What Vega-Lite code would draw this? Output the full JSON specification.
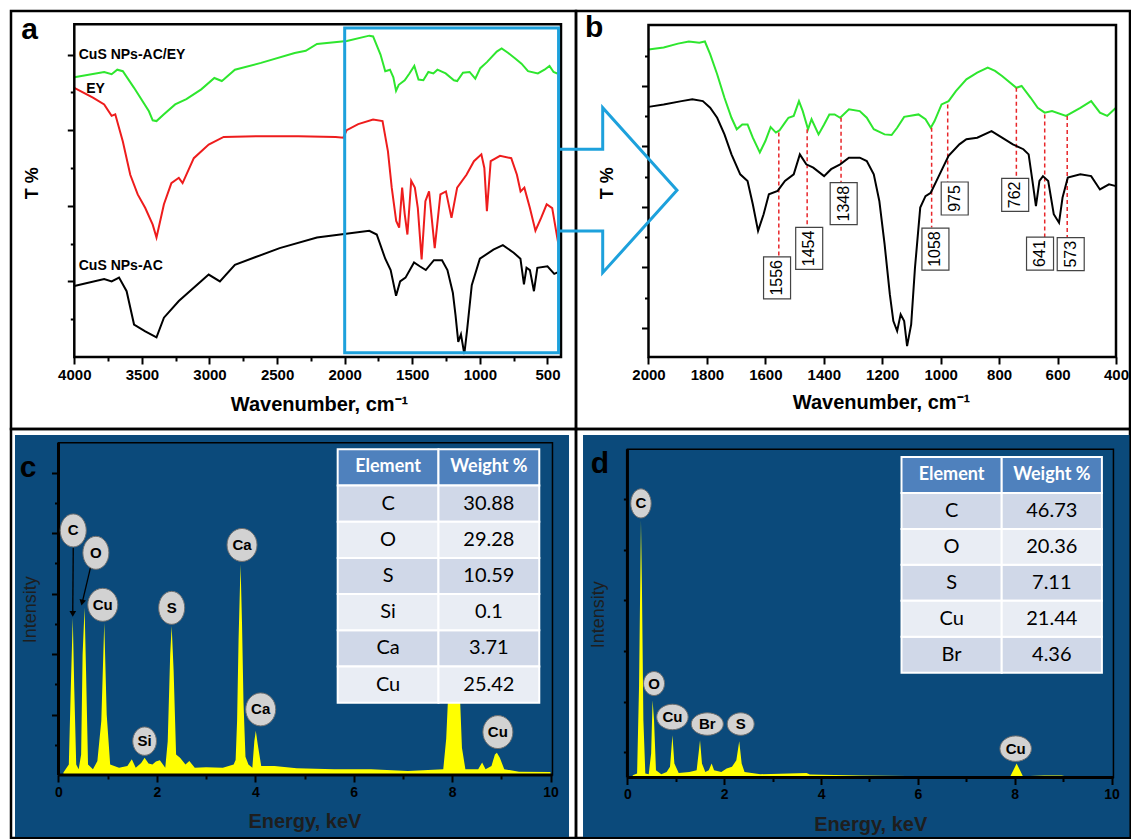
{
"$schema":"https://vega.github.io/schema/vega-lite/v6.json",
"background":"white",
"padding":{"left":9,"top":9,"right":0,"bottom":0},
"bounds":"flush",
"spacing":0,
"columns":2,
"resolve":{"scale":{"shape":"independent"}},
"config":{
 "font":"Liberation Sans",
 "view":{"stroke":"black","strokeWidth":2.5},
 "axis":{"domain":false,"grid":false,"tickColor":"black","tickWidth":2,"tickSize":7,"labelFont":"Liberation Sans","labelFontWeight":"bold","labelFontSize":15,"labelColor":"black","labelPadding":3,"titleFont":"Liberation Sans","titleFontWeight":"bold","titleFontSize":20,"titleColor":"black"}
},
"datasets":{
 "aGreen":[{"wn":4000,"t":3.70},{"wn":3779,"t":3.77},{"wn":3724,"t":3.74},{"wn":3682,"t":3.80},{"wn":3641,"t":3.78},{"wn":3558,"t":3.56},{"wn":3448,"t":3.25},{"wn":3420,"t":3.13},{"wn":3392,"t":3.12},{"wn":3337,"t":3.21},{"wn":3254,"t":3.34},{"wn":3171,"t":3.41},{"wn":3061,"t":3.54},{"wn":2964,"t":3.69},{"wn":2909,"t":3.65},{"wn":2895,"t":3.67},{"wn":2812,"t":3.80},{"wn":2619,"t":3.89},{"wn":2370,"t":4.02},{"wn":2288,"t":4.05},{"wn":2205,"t":4.14},{"wn":1984,"t":4.18},{"wn":1818,"t":4.25},{"wn":1790,"t":4.24},{"wn":1735,"t":4.00},{"wn":1700,"t":3.78},{"wn":1665,"t":3.80},{"wn":1640,"t":3.70},{"wn":1620,"t":3.52},{"wn":1600,"t":3.60},{"wn":1556,"t":3.66},{"wn":1521,"t":3.75},{"wn":1485,"t":3.85},{"wn":1454,"t":3.67},{"wn":1418,"t":3.66},{"wn":1381,"t":3.77},{"wn":1344,"t":3.75},{"wn":1314,"t":3.80},{"wn":1253,"t":3.75},{"wn":1192,"t":3.66},{"wn":1168,"t":3.65},{"wn":1125,"t":3.76},{"wn":1076,"t":3.77},{"wn":1034,"t":3.68},{"wn":997,"t":3.82},{"wn":948,"t":3.90},{"wn":875,"t":4.04},{"wn":839,"t":4.08},{"wn":790,"t":4.02},{"wn":741,"t":3.95},{"wn":692,"t":3.88},{"wn":644,"t":3.78},{"wn":571,"t":3.75},{"wn":522,"t":3.80},{"wn":485,"t":3.85},{"wn":455,"t":3.77},{"wn":430,"t":3.75},{"wn":400,"t":3.79}],
 "aRed":[{"wn":4000,"t":3.56},{"wn":3862,"t":3.43},{"wn":3779,"t":3.34},{"wn":3724,"t":3.19},{"wn":3697,"t":3.21},{"wn":3641,"t":2.85},{"wn":3586,"t":2.41},{"wn":3531,"t":2.15},{"wn":3475,"t":1.97},{"wn":3420,"t":1.75},{"wn":3392,"t":1.58},{"wn":3337,"t":2.02},{"wn":3282,"t":2.30},{"wn":3227,"t":2.37},{"wn":3199,"t":2.30},{"wn":3116,"t":2.63},{"wn":3006,"t":2.81},{"wn":2895,"t":2.91},{"wn":2619,"t":2.92},{"wn":2343,"t":2.92},{"wn":2067,"t":2.91},{"wn":2010,"t":2.90},{"wn":1985,"t":3.00},{"wn":1900,"t":3.08},{"wn":1790,"t":3.14},{"wn":1720,"t":3.12},{"wn":1680,"t":2.72},{"wn":1652,"t":2.24},{"wn":1619,"t":1.80},{"wn":1597,"t":1.71},{"wn":1575,"t":2.24},{"wn":1556,"t":1.89},{"wn":1536,"t":1.62},{"wn":1508,"t":2.33},{"wn":1481,"t":2.24},{"wn":1459,"t":1.97},{"wn":1431,"t":1.29},{"wn":1403,"t":2.06},{"wn":1376,"t":2.19},{"wn":1334,"t":1.44},{"wn":1292,"t":2.15},{"wn":1251,"t":2.19},{"wn":1210,"t":1.84},{"wn":1168,"t":2.24},{"wn":1099,"t":2.41},{"wn":1044,"t":2.59},{"wn":989,"t":2.68},{"wn":967,"t":2.50},{"wn":948,"t":1.93},{"wn":920,"t":2.59},{"wn":851,"t":2.66},{"wn":768,"t":2.63},{"wn":726,"t":2.41},{"wn":699,"t":2.19},{"wn":671,"t":2.24},{"wn":630,"t":1.97},{"wn":589,"t":1.67},{"wn":547,"t":1.84},{"wn":506,"t":2.02},{"wn":465,"t":1.97},{"wn":423,"t":1.53},{"wn":400,"t":1.40}],
 "aBlack":[{"wn":4000,"t":0.94},{"wn":3779,"t":1.03},{"wn":3724,"t":1.00},{"wn":3669,"t":1.05},{"wn":3613,"t":0.87},{"wn":3558,"t":0.43},{"wn":3475,"t":0.34},{"wn":3392,"t":0.26},{"wn":3337,"t":0.52},{"wn":3227,"t":0.74},{"wn":3006,"t":1.09},{"wn":2923,"t":1.00},{"wn":2812,"t":1.22},{"wn":2481,"t":1.44},{"wn":2205,"t":1.58},{"wn":1818,"t":1.67},{"wn":1763,"t":1.62},{"wn":1700,"t":1.30},{"wn":1660,"t":1.15},{"wn":1620,"t":0.81},{"wn":1590,"t":1.00},{"wn":1550,"t":1.05},{"wn":1487,"t":1.25},{"wn":1445,"t":1.20},{"wn":1400,"t":1.15},{"wn":1340,"t":1.28},{"wn":1280,"t":1.28},{"wn":1240,"t":1.15},{"wn":1200,"t":0.85},{"wn":1180,"t":0.55},{"wn":1160,"t":0.20},{"wn":1140,"t":0.30},{"wn":1115,"t":0.04},{"wn":1095,"t":0.35},{"wn":1060,"t":0.95},{"wn":1000,"t":1.30},{"wn":900,"t":1.42},{"wn":830,"t":1.48},{"wn":750,"t":1.38},{"wn":700,"t":1.30},{"wn":674,"t":0.96},{"wn":655,"t":1.18},{"wn":630,"t":1.15},{"wn":600,"t":0.87},{"wn":575,"t":1.18},{"wn":500,"t":1.20},{"wn":450,"t":1.10},{"wn":400,"t":1.14}],
 "aLabels":[{"name":"CuS NPs-AC/EY","wn":3967,"t":4.00},{"name":"EY","wn":3912,"t":3.55},{"name":"CuS NPs-AC","wn":3967,"t":1.20}],
 "bGreen":[{"wn":2000,"t":9.21},{"wn":1948,"t":9.27},{"wn":1899,"t":9.40},{"wn":1862,"t":9.47},{"wn":1826,"t":9.43},{"wn":1807,"t":9.47},{"wn":1789,"t":9.05},{"wn":1765,"t":8.39},{"wn":1740,"t":7.61},{"wn":1716,"t":6.95},{"wn":1698,"t":6.57},{"wn":1679,"t":6.73},{"wn":1661,"t":6.73},{"wn":1643,"t":6.29},{"wn":1619,"t":5.80},{"wn":1600,"t":6.18},{"wn":1582,"t":6.64},{"wn":1564,"t":6.46},{"wn":1552,"t":6.53},{"wn":1533,"t":6.79},{"wn":1521,"t":6.95},{"wn":1503,"t":7.01},{"wn":1485,"t":7.50},{"wn":1472,"t":7.17},{"wn":1454,"t":6.57},{"wn":1442,"t":6.90},{"wn":1418,"t":6.40},{"wn":1399,"t":6.73},{"wn":1381,"t":7.06},{"wn":1363,"t":7.06},{"wn":1344,"t":6.95},{"wn":1314,"t":7.23},{"wn":1277,"t":7.17},{"wn":1253,"t":6.95},{"wn":1229,"t":6.57},{"wn":1192,"t":6.40},{"wn":1168,"t":6.38},{"wn":1149,"t":6.62},{"wn":1125,"t":6.98},{"wn":1076,"t":7.06},{"wn":1052,"t":6.90},{"wn":1034,"t":6.62},{"wn":1021,"t":6.84},{"wn":997,"t":7.39},{"wn":973,"t":7.50},{"wn":948,"t":7.83},{"wn":912,"t":8.22},{"wn":875,"t":8.44},{"wn":839,"t":8.61},{"wn":814,"t":8.50},{"wn":790,"t":8.33},{"wn":741,"t":7.94},{"wn":723,"t":8.00},{"wn":692,"t":7.61},{"wn":668,"t":7.28},{"wn":644,"t":7.12},{"wn":619,"t":7.17},{"wn":571,"t":7.01},{"wn":522,"t":7.28},{"wn":485,"t":7.50},{"wn":455,"t":7.12},{"wn":430,"t":7.01},{"wn":412,"t":7.17},{"wn":400,"t":7.28}],
 "bBlack":[{"wn":2000,"t":7.31},{"wn":1948,"t":7.39},{"wn":1887,"t":7.50},{"wn":1850,"t":7.56},{"wn":1814,"t":7.50},{"wn":1789,"t":7.28},{"wn":1765,"t":6.95},{"wn":1740,"t":6.40},{"wn":1716,"t":5.74},{"wn":1686,"t":5.08},{"wn":1661,"t":4.86},{"wn":1643,"t":4.09},{"wn":1625,"t":3.21},{"wn":1606,"t":3.76},{"wn":1588,"t":4.42},{"wn":1558,"t":4.53},{"wn":1533,"t":4.86},{"wn":1503,"t":5.08},{"wn":1482,"t":5.74},{"wn":1460,"t":5.41},{"wn":1436,"t":5.30},{"wn":1399,"t":5.02},{"wn":1375,"t":5.25},{"wn":1344,"t":5.41},{"wn":1314,"t":5.63},{"wn":1277,"t":5.63},{"wn":1253,"t":5.52},{"wn":1229,"t":5.08},{"wn":1210,"t":4.20},{"wn":1192,"t":2.77},{"wn":1174,"t":1.11},{"wn":1162,"t":0.23},{"wn":1149,"t":-0.10},{"wn":1137,"t":0.45},{"wn":1125,"t":0.23},{"wn":1115,"t":-0.60},{"wn":1101,"t":0.12},{"wn":1088,"t":1.99},{"wn":1070,"t":3.98},{"wn":1052,"t":4.36},{"wn":1034,"t":4.47},{"wn":1009,"t":4.97},{"wn":973,"t":5.69},{"wn":936,"t":6.07},{"wn":912,"t":6.24},{"wn":875,"t":6.29},{"wn":826,"t":6.51},{"wn":790,"t":6.29},{"wn":753,"t":6.07},{"wn":717,"t":5.91},{"wn":699,"t":5.74},{"wn":686,"t":4.86},{"wn":674,"t":4.03},{"wn":662,"t":4.86},{"wn":650,"t":5.02},{"wn":632,"t":4.86},{"wn":613,"t":3.76},{"wn":595,"t":3.48},{"wn":583,"t":4.31},{"wn":565,"t":4.97},{"wn":522,"t":5.08},{"wn":485,"t":5.02},{"wn":455,"t":4.58},{"wn":424,"t":4.75},{"wn":400,"t":4.69}],
 "bPeaks":[{"label":"1556","wn":1554,"top":6.46,"bottom":2.35,"bx":1560,"by":1.66},{"label":"1454","wn":1457,"top":6.57,"bottom":3.34,"bx":1450,"by":2.63},{"label":"1348","wn":1341,"top":6.95,"bottom":4.80,"bx":1332,"by":4.11},{"label":"1058","wn":1031,"top":6.62,"bottom":3.32,"bx":1018,"by":2.61},{"label":"975","wn":976,"top":7.39,"bottom":4.80,"bx":952,"by":4.28},{"label":"762","wn":741,"top":7.94,"bottom":4.91,"bx":745,"by":4.40},{"label":"641","wn":644,"top":7.06,"bottom":2.99,"bx":660,"by":2.46},{"label":"573","wn":567,"top":7.01,"bottom":2.99,"bx":555,"by":2.44}],
 "bArrow":[{"ord":1,"wn":2308,"t":5.907},{"ord":2,"wn":2156.7,"t":5.907},{"ord":3,"wn":2156.7,"t":7.283},{"ord":4,"wn":1902.5,"t":4.552},{"ord":5,"wn":2156.7,"t":1.828},{"ord":6,"wn":2156.7,"t":3.207},{"ord":7,"wn":2308,"t":3.207}],
 "edxC":[{"e":0.10,"i":0.08},{"e":0.21,"i":0.35},{"e":0.25,"i":2.89},{"e":0.29,"i":5.20},{"e":0.32,"i":2.89},{"e":0.36,"i":0.35},{"e":0.41,"i":0.19},{"e":0.46,"i":0.68},{"e":0.49,"i":3.99},{"e":0.53,"i":5.53},{"e":0.56,"i":3.44},{"e":0.60,"i":0.35},{"e":0.70,"i":0.19},{"e":0.79,"i":0.46},{"e":0.87,"i":1.79},{"e":0.93,"i":5.04},{"e":0.98,"i":1.99},{"e":1.05,"i":0.35},{"e":1.23,"i":0.24},{"e":1.40,"i":0.30},{"e":1.49,"i":0.52},{"e":1.57,"i":0.24},{"e":1.68,"i":0.40},{"e":1.75,"i":0.57},{"e":1.83,"i":0.38},{"e":1.91,"i":0.35},{"e":1.98,"i":0.45},{"e":2.06,"i":0.49},{"e":2.17,"i":0.24},{"e":2.22,"i":1.12},{"e":2.27,"i":3.99},{"e":2.30,"i":4.93},{"e":2.34,"i":3.44},{"e":2.39,"i":0.68},{"e":2.47,"i":0.57},{"e":2.58,"i":0.35},{"e":2.66,"i":0.46},{"e":2.77,"i":0.24},{"e":3.00,"i":0.26},{"e":3.34,"i":0.24},{"e":3.56,"i":0.35},{"e":3.60,"i":0.5},{"e":3.63,"i":1.8},{"e":3.66,"i":4.5},{"e":3.70,"i":6.97},{"e":3.73,"i":5.0},{"e":3.76,"i":2.4},{"e":3.80,"i":0.6},{"e":3.86,"i":0.35},{"e":3.94,"i":0.24},{"e":3.98,"i":1.12},{"e":4.01,"i":1.46},{"e":4.05,"i":1.01},{"e":4.12,"i":0.30},{"e":4.39,"i":0.30},{"e":4.84,"i":0.22},{"e":5.60,"i":0.19},{"e":6.35,"i":0.19},{"e":7.10,"i":0.13},{"e":7.82,"i":0.19},{"e":7.88,"i":1.2},{"e":7.93,"i":3.0},{"e":8.00,"i":5.5},{"e":8.08,"i":5.5},{"e":8.15,"i":3.0},{"e":8.20,"i":0.9},{"e":8.27,"i":0.19},{"e":8.53,"i":0.19},{"e":8.61,"i":0.41},{"e":8.68,"i":0.19},{"e":8.80,"i":0.30},{"e":8.87,"i":0.68},{"e":8.91,"i":0.74},{"e":8.97,"i":0.57},{"e":9.06,"i":0.19},{"e":9.36,"i":0.11},{"e":10.0,"i":0.10}],
 "labC":[{"el":"C","e":0.30,"i":8.09},{"el":"O","e":0.76,"i":7.35},{"el":"Cu","e":0.90,"i":5.63},{"el":"S","e":2.30,"i":5.53},{"el":"Ca","e":3.73,"i":7.61},{"el":"Ca","e":4.11,"i":2.17},{"el":"Si","e":1.75,"i":1.12},{"el":"Cu","e":8.93,"i":1.42}],
 "arrC":[{"id":"C","ord":1,"e":0.30,"i":7.52},{"id":"C","ord":2,"e":0.29,"i":5.40},{"id":"O","ord":1,"e":0.65,"i":6.86},{"id":"O","ord":2,"e":0.49,"i":5.76}],
 "tabC":[{"row":"Element","col":"Element","txt":"Element"},{"row":"Element","col":"Weight %","txt":"Weight %"},{"row":"C","col":"Element","txt":"C"},{"row":"C","col":"Weight %","txt":"30.88"},{"row":"O","col":"Element","txt":"O"},{"row":"O","col":"Weight %","txt":"29.28"},{"row":"S","col":"Element","txt":"S"},{"row":"S","col":"Weight %","txt":"10.59"},{"row":"Si","col":"Element","txt":"Si"},{"row":"Si","col":"Weight %","txt":"0.1"},{"row":"Ca","col":"Element","txt":"Ca"},{"row":"Ca","col":"Weight %","txt":"3.71"},{"row":"Cu","col":"Element","txt":"Cu"},{"row":"Cu","col":"Weight %","txt":"25.42"}],
 "edxD":[{"e":0.11,"i":0.09},{"e":0.20,"i":0.16},{"e":0.24,"i":3.58},{"e":0.28,"i":10.16},{"e":0.30,"i":7.53},{"e":0.33,"i":2.26},{"e":0.37,"i":0.16},{"e":0.44,"i":0.13},{"e":0.49,"i":0.95},{"e":0.52,"i":3.05},{"e":0.55,"i":2.26},{"e":0.59,"i":0.29},{"e":0.70,"i":0.13},{"e":0.81,"i":0.22},{"e":0.88,"i":0.42},{"e":0.93,"i":1.67},{"e":0.97,"i":0.55},{"e":1.06,"i":0.18},{"e":1.28,"i":0.22},{"e":1.43,"i":0.29},{"e":1.47,"i":0.95},{"e":1.50,"i":1.47},{"e":1.54,"i":0.55},{"e":1.61,"i":0.22},{"e":1.68,"i":0.29},{"e":1.74,"i":0.55},{"e":1.79,"i":0.29},{"e":1.94,"i":0.22},{"e":2.05,"i":0.36},{"e":2.16,"i":0.42},{"e":2.25,"i":0.68},{"e":2.31,"i":1.43},{"e":2.36,"i":0.55},{"e":2.42,"i":0.22},{"e":2.75,"i":0.13},{"e":3.70,"i":0.18},{"e":3.77,"i":0.12},{"e":4.80,"i":0.08},{"e":6.26,"i":0.05},{"e":7.91,"i":0.05},{"e":7.99,"i":0.36},{"e":8.04,"i":0.55},{"e":8.11,"i":0.29},{"e":8.17,"i":0.05},{"e":8.61,"i":0.08},{"e":8.97,"i":0.08},{"e":9.05,"i":0.05}],
 "labD":[{"el":"C","e":0.28,"i":10.82},{"el":"O","e":0.55,"i":3.71},{"el":"Cu","e":0.93,"i":2.39},{"el":"Br","e":1.65,"i":2.11},{"el":"S","e":2.34,"i":2.11},{"el":"Cu","e":8.02,"i":1.14}],
 "tabD":[{"row":"Element","col":"Element","txt":"Element"},{"row":"Element","col":"Weight %","txt":"Weight %"},{"row":"C","col":"Element","txt":"C"},{"row":"C","col":"Weight %","txt":"46.73"},{"row":"O","col":"Element","txt":"O"},{"row":"O","col":"Weight %","txt":"20.36"},{"row":"S","col":"Element","txt":"S"},{"row":"S","col":"Weight %","txt":"7.11"},{"row":"Cu","col":"Element","txt":"Cu"},{"row":"Cu","col":"Weight %","txt":"21.44"},{"row":"Br","col":"Element","txt":"Br"},{"row":"Br","col":"Weight %","txt":"4.36"}]
},
"concat":[
{
 "width":565,"height":418,
 "layer":[
  {"data":{"name":"aGreen"},"mark":{"type":"line","color":"#2EE62E","strokeWidth":2},
   "encoding":{"x":{"field":"wn","type":"quantitative","scale":{"domain":[289,4468.2],"reverse":true,"nice":false,"zero":false},
     "axis":{"orient":"bottom","offset":-72,"values":[4000,3750,3500,3250,3000,2750,2500,2250,2000,1750,1500,1250,1000,750,500],"format":"d","labelExpr":"datum.value % 500 == 0 ? datum.label : ''","tickDash":{"condition":{"test":"datum.value % 500 != 0","value":[4,20]},"value":[]},"title":"Wavenumber, cm⁻¹","titleX":308,"titleY":47,"titleBaseline":"middle"}},
    "y":{"field":"t","type":"quantitative","scale":{"domain":[-0.952,4.576],"nice":false,"zero":false},
     "axis":{"orient":"left","offset":-63.3,"values":[0.5,1,1.5,2,2.5,3,3.5,4],"labels":false,"tickDash":{"condition":{"test":"datum.value % 1 != 0","value":[4,20]},"value":[]},"title":"T %","titleFontSize":18,"titleX":-42,"titleY":171.7,"titleBaseline":"middle"}}}},
  {"data":{"name":"aRed"},"mark":{"type":"line","color":"#EE1C1C","strokeWidth":2},
   "encoding":{"x":{"field":"wn","type":"quantitative","scale":{"domain":[289,4468.2],"reverse":true,"nice":false,"zero":false}},"y":{"field":"t","type":"quantitative","scale":{"domain":[-0.952,4.576],"nice":false,"zero":false}}}},
  {"data":{"name":"aBlack"},"mark":{"type":"line","color":"black","strokeWidth":2},
   "encoding":{"x":{"field":"wn","type":"quantitative","scale":{"domain":[289,4468.2],"reverse":true,"nice":false,"zero":false}},"y":{"field":"t","type":"quantitative","scale":{"domain":[-0.952,4.576],"nice":false,"zero":false}}}},
  {"data":{"values":[{}]},"mark":{"type":"rect","fillOpacity":0,"stroke":"black","strokeWidth":2.5},
   "encoding":{"x":{"datum":4000,"type":"quantitative","scale":{"domain":[289,4468.2],"reverse":true,"nice":false,"zero":false}},"x2":{"datum":400},"y":{"datum":0,"type":"quantitative","scale":{"domain":[-0.952,4.576],"nice":false,"zero":false}},"y2":{"datum":4.4}}},
  {"data":{"values":[{}]},"mark":{"type":"rect","fillOpacity":0,"stroke":"#1DA1DC","strokeWidth":3},
   "encoding":{"x":{"datum":2000,"type":"quantitative","scale":{"domain":[289,4468.2],"reverse":true,"nice":false,"zero":false}},"x2":{"datum":418},"y":{"datum":0.057,"type":"quantitative","scale":{"domain":[-0.952,4.576],"nice":false,"zero":false}},"y2":{"datum":4.35}}},
  {"data":{"name":"aLabels"},"mark":{"type":"text","align":"left","baseline":"middle","fontWeight":"bold","fontSize":14,"color":"black"},
   "encoding":{"x":{"field":"wn","type":"quantitative","scale":{"domain":[289,4468.2],"reverse":true,"nice":false,"zero":false}},"y":{"field":"t","type":"quantitative","scale":{"domain":[-0.952,4.576],"nice":false,"zero":false}},"text":{"field":"name"}}},
  {"data":{"values":[{}]},"mark":{"type":"text","align":"center","baseline":"middle","fontWeight":"bold","fontSize":30,"color":"black"},
   "encoding":{"x":{"datum":4331,"type":"quantitative","scale":{"domain":[289,4468.2],"reverse":true,"nice":false,"zero":false}},"y":{"datum":4.32,"type":"quantitative","scale":{"domain":[-0.952,4.576],"nice":false,"zero":false}},"text":{"value":"a"}}}
 ]
},
{
 "width":554,"height":418,
 "layer":[
  {"data":{"name":"bGreen"},"mark":{"type":"line","color":"#2EE62E","strokeWidth":2},
   "encoding":{"x":{"field":"wn","type":"quantitative","scale":{"domain":[352.1,2248.1],"reverse":true,"nice":false,"zero":false},
     "axis":{"orient":"bottom","offset":-72,"values":[2000,1900,1800,1700,1600,1500,1400,1300,1200,1100,1000,900,800,700,600,500,400],"format":"d","labelExpr":"datum.value % 200 == 0 ? datum.label : ''","tickDash":{"condition":{"test":"datum.value % 200 != 0","value":[4,20]},"value":[]},"title":"Wavenumber, cm⁻¹","titleX":305,"titleY":45.7,"titleBaseline":"middle"}},
    "y":{"field":"t","type":"quantitative","scale":{"domain":[-3.339,10.479],"nice":false,"zero":false},
     "axis":{"orient":"left","offset":-72.5,"values":[0,1,2,3,4,5,6,7,8,9],"labels":false,"tickDash":{"condition":{"test":"datum.value % 2 != 0","value":[4,20]},"value":[]},"title":"T %","titleFontSize":18,"titleX":-40.8,"titleY":171.7,"titleBaseline":"middle"}}}},
  {"data":{"values":[{}]},"mark":{"type":"rect","fillOpacity":0,"stroke":"black","strokeWidth":2.5},
   "encoding":{"x":{"datum":2000,"type":"quantitative","scale":{"domain":[352.1,2248.1],"reverse":true,"nice":false,"zero":false}},"x2":{"datum":400},"y":{"datum":-0.96,"type":"quantitative","scale":{"domain":[-3.339,10.479],"nice":false,"zero":false}},"y2":{"datum":10.02}}},
  {"data":{"name":"bPeaks"},"mark":{"type":"rule","color":"#E8262A","strokeWidth":1.5,"strokeDash":[4,3]},
   "encoding":{"x":{"field":"wn","type":"quantitative","scale":{"domain":[352.1,2248.1],"reverse":true,"nice":false,"zero":false}},"y":{"field":"top","type":"quantitative","scale":{"domain":[-3.339,10.479],"nice":false,"zero":false}},"y2":{"field":"bottom"}}},
  {"data":{"name":"bBlack"},"mark":{"type":"line","color":"black","strokeWidth":2},
   "encoding":{"x":{"field":"wn","type":"quantitative","scale":{"domain":[352.1,2248.1],"reverse":true,"nice":false,"zero":false}},"y":{"field":"t","type":"quantitative","scale":{"domain":[-3.339,10.479],"nice":false,"zero":false}}}},
  {"data":{"name":"bPeaks"},"transform":[{"filter":"length(datum.label) == 4"}],"mark":{"type":"point","shape":"M-0.643,-1H0.643V1H-0.643Z","size":1764,"filled":true,"fill":"white","stroke":"#444444","strokeWidth":1.2,"opacity":1},
   "encoding":{"x":{"field":"bx","type":"quantitative","scale":{"domain":[352.1,2248.1],"reverse":true,"nice":false,"zero":false}},"y":{"field":"by","type":"quantitative","scale":{"domain":[-3.339,10.479],"nice":false,"zero":false}}}},
  {"data":{"name":"bPeaks"},"transform":[{"filter":"length(datum.label) == 3"}],"mark":{"type":"point","shape":"M-0.818,-1H0.818V1H-0.818Z","size":1089,"filled":true,"fill":"white","stroke":"#444444","strokeWidth":1.2,"opacity":1},
   "encoding":{"x":{"field":"bx","type":"quantitative","scale":{"domain":[352.1,2248.1],"reverse":true,"nice":false,"zero":false}},"y":{"field":"by","type":"quantitative","scale":{"domain":[-3.339,10.479],"nice":false,"zero":false}}}},
  {"data":{"name":"bPeaks"},"mark":{"type":"text","angle":270,"align":"center","baseline":"middle","fontSize":16,"color":"black"},
   "encoding":{"x":{"field":"bx","type":"quantitative","scale":{"domain":[352.1,2248.1],"reverse":true,"nice":false,"zero":false}},"y":{"field":"by","type":"quantitative","scale":{"domain":[-3.339,10.479],"nice":false,"zero":false}},"text":{"field":"label"}}},
  {"data":{"name":"bArrow"},"mark":{"type":"line","color":"#1DA1DC","strokeWidth":3,"clip":false},
   "encoding":{"x":{"field":"wn","type":"quantitative","scale":{"domain":[352.1,2248.1],"reverse":true,"nice":false,"zero":false}},"y":{"field":"t","type":"quantitative","scale":{"domain":[-3.339,10.479],"nice":false,"zero":false}},"order":{"field":"ord"}}},
  {"data":{"values":[{}]},"mark":{"type":"text","align":"center","baseline":"middle","fontWeight":"bold","fontSize":30,"color":"black"},
   "encoding":{"x":{"datum":2186,"type":"quantitative","scale":{"domain":[352.1,2248.1],"reverse":true,"nice":false,"zero":false}},"y":{"datum":9.93,"type":"quantitative","scale":{"domain":[-3.339,10.479],"nice":false,"zero":false}},"text":{"value":"b"}}}
 ]
},
{
 "width":565,"height":409,
 "layer":[
  {"data":{"values":[{}]},"mark":{"type":"rect","fill":"#0B4A7B"},
   "encoding":{"x":{"datum":-0.884,"type":"quantitative","scale":{"domain":[-0.9654,10.518],"nice":false,"zero":false},"axis":null},"x2":{"datum":10.376},"y":{"datum":-2.051,"type":"quantitative","scale":{"domain":[-2.084,11.446],"nice":false,"zero":false},"axis":null},"y2":{"datum":11.247}}},
  {"layer":[
   {"data":{"name":"edxC"},"mark":{"type":"area","color":"#FFFF00","opacity":1},
    "encoding":{"x":{"field":"e","type":"quantitative","scale":{"domain":[-0.9654,10.518],"nice":false,"zero":false},
      "axis":{"orient":"bottom","offset":-63,"zindex":1,"values":[0,1,2,3,4,5,6,7,8,9,10],"format":"d","labelFontSize":14,"labelExpr":"datum.value % 2 == 0 ? datum.label : ''","tickDash":{"condition":{"test":"datum.value % 2 != 0","value":[4,20]},"value":[]},"title":"Energy, keV","titleColor":"#1e1e1e","titleX":293.4,"titleY":46,"titleBaseline":"middle"}},
     "y":{"field":"i","type":"quantitative","scale":{"domain":[-2.084,11.446],"nice":false,"zero":false},
      "axis":{"orient":"left","offset":-47.5,"zindex":1,"values":[1,2,3,4,5,6,7,8,9,10],"labels":false,"tickDash":{"condition":{"test":"datum.value % 2 != 0","value":[4,20]},"value":[]},"title":"Intensity","titleFontWeight":"normal","titleFontSize":18,"titleColor":"#1e1e1e","titleX":-27.9,"titleY":180.3,"titleBaseline":"middle"}}}},
   {"data":{"values":[{}]},"mark":{"type":"rect","fillOpacity":0,"stroke":"black","strokeWidth":1.5},
    "encoding":{"x":{"datum":0,"type":"quantitative","scale":{"domain":[-0.9654,10.518],"nice":false,"zero":false}},"x2":{"datum":10.04},"y":{"datum":0,"type":"quantitative","scale":{"domain":[-2.084,11.446],"nice":false,"zero":false}},"y2":{"datum":10.99}}},
   {"data":{"values":[{}]},"mark":{"type":"rule","color":"black","strokeWidth":3},
    "encoding":{"x":{"datum":0,"type":"quantitative","scale":{"domain":[-0.9654,10.518],"nice":false,"zero":false}},"y":{"datum":0,"type":"quantitative","scale":{"domain":[-2.084,11.446],"nice":false,"zero":false}},"y2":{"datum":10.99}}},
   {"data":{"values":[{}]},"mark":{"type":"rule","color":"black","strokeWidth":3},
    "encoding":{"x":{"datum":0,"type":"quantitative","scale":{"domain":[-0.9654,10.518],"nice":false,"zero":false}},"x2":{"datum":10.04},"y":{"datum":0,"type":"quantitative","scale":{"domain":[-2.084,11.446],"nice":false,"zero":false}}}},
   {"data":{"name":"arrC"},"mark":{"type":"line","color":"black","strokeWidth":1.3},
    "encoding":{"x":{"field":"e","type":"quantitative","scale":{"domain":[-0.9654,10.518],"nice":false,"zero":false}},"y":{"field":"i","type":"quantitative","scale":{"domain":[-2.084,11.446],"nice":false,"zero":false}},"detail":{"field":"id"},"order":{"field":"ord"}}},
   {"data":{"values":[{}]},"mark":{"type":"point","shape":"triangle-down","filled":true,"color":"black","size":45,"opacity":1},
    "encoding":{"x":{"datum":0.29,"type":"quantitative","scale":{"domain":[-0.9654,10.518],"nice":false,"zero":false}},"y":{"datum":5.33,"type":"quantitative","scale":{"domain":[-2.084,11.446],"nice":false,"zero":false}}}},
   {"data":{"values":[{}]},"mark":{"type":"point","shape":"triangle-down","filled":true,"color":"black","size":45,"opacity":1,"angle":13},
    "encoding":{"x":{"datum":0.48,"type":"quantitative","scale":{"domain":[-0.9654,10.518],"nice":false,"zero":false}},"y":{"datum":5.70,"type":"quantitative","scale":{"domain":[-2.084,11.446],"nice":false,"zero":false}}}},
   {"data":{"name":"labC"},"mark":{"type":"point","filled":true,"fill":"#D2D2D2","stroke":"#6E6E6E","strokeWidth":1,"size":1089,"opacity":1},
    "encoding":{"x":{"field":"e","type":"quantitative","scale":{"domain":[-0.9654,10.518],"nice":false,"zero":false}},"y":{"field":"i","type":"quantitative","scale":{"domain":[-2.084,11.446],"nice":false,"zero":false}},
     "shape":{"field":"el","type":"nominal","legend":null,"scale":{"domain":["C","O","S","Cu","Ca","Si"],"range":["M-0.79,0A0.79,1 0 1,0 0.79,0A0.79,1 0 1,0 -0.79,0Z","M-0.79,0A0.79,1 0 1,0 0.79,0A0.79,1 0 1,0 -0.79,0Z","M-0.79,0A0.79,1 0 1,0 0.79,0A0.79,1 0 1,0 -0.79,0Z","M-0.91,0A0.91,1 0 1,0 0.91,0A0.91,1 0 1,0 -0.91,0Z","M-0.91,0A0.91,1 0 1,0 0.91,0A0.91,1 0 1,0 -0.91,0Z","M-0.72,0A0.72,0.86 0 1,0 0.72,0A0.72,0.86 0 1,0 -0.72,0Z"]}}}},
   {"data":{"name":"labC"},"mark":{"type":"text","align":"center","baseline":"middle","fontWeight":"bold","fontSize":15,"color":"black"},
    "encoding":{"x":{"field":"e","type":"quantitative","scale":{"domain":[-0.9654,10.518],"nice":false,"zero":false}},"y":{"field":"i","type":"quantitative","scale":{"domain":[-2.084,11.446],"nice":false,"zero":false}},"text":{"field":"el"}}},
   {"data":{"values":[{}]},"mark":{"type":"text","align":"center","baseline":"middle","fontWeight":"bold","fontSize":30,"color":"black"},
    "encoding":{"x":{"datum":-0.62,"type":"quantitative","scale":{"domain":[-0.9654,10.518],"nice":false,"zero":false}},"y":{"datum":10.17,"type":"quantitative","scale":{"domain":[-2.084,11.446],"nice":false,"zero":false}},"text":{"value":"c"}}}
  ]},
  {"data":{"name":"tabC"},
   "encoding":{"x":{"field":"col","type":"nominal","axis":null,"scale":{"type":"band","domain":["_p1","_p2","_p3","Element","Weight %"],"paddingInner":0,"paddingOuter":0.3026,"align":0.398}},
     "y":{"field":"row","type":"nominal","axis":null,"scale":{"type":"band","domain":["Element","C","O","S","Si","Ca","Cu","_q1","_q2","_q3"],"paddingInner":0,"paddingOuter":0.649,"align":0.432}}},
   "layer":[
    {"transform":[{"filter":"datum.row == 'Element'"}],"mark":{"type":"rect","fill":"#4F81BD","stroke":"white","strokeWidth":2}},
    {"transform":[{"filter":{"field":"row","oneOf":["C","S","Ca"]}}],"mark":{"type":"rect","fill":"#D0D8E8","stroke":"white","strokeWidth":2}},
    {"transform":[{"filter":{"field":"row","oneOf":["O","Si","Cu"]}}],"mark":{"type":"rect","fill":"#E9EDF4","stroke":"white","strokeWidth":2}},
    {"transform":[{"filter":"datum.row == 'Element'"}],"mark":{"type":"text","font":"Lato","fontWeight":"bold","fontSize":18,"color":"white","baseline":"middle"},"encoding":{"text":{"field":"txt"}}},
    {"transform":[{"filter":"datum.row != 'Element'"}],"mark":{"type":"text","font":"Lato","fontSize":20,"color":"black","baseline":"middle"},"encoding":{"text":{"field":"txt"}}}
   ]}
 ],
 "resolve":{"scale":{"x":"independent","y":"independent"}}
},
{
 "width":554,"height":409,
 "layer":[
  {"data":{"values":[{}]},"mark":{"type":"rect","fill":"#0B4A7B"},
   "encoding":{"x":{"datum":-0.917,"type":"quantitative","scale":{"domain":[-1.062,10.382],"nice":false,"zero":false},"axis":null},"x2":{"datum":10.37},"y":{"datum":-2.349,"type":"quantitative","scale":{"domain":[-2.388,13.758],"nice":false,"zero":false},"axis":null},"y2":{"datum":13.52}}},
  {"layer":[
   {"data":{"name":"edxD"},"mark":{"type":"area","color":"#FFFF00","opacity":1},
    "encoding":{"x":{"field":"e","type":"quantitative","scale":{"domain":[-1.062,10.382],"nice":false,"zero":false},
      "axis":{"orient":"bottom","offset":-60.5,"zindex":1,"values":[0,1,2,3,4,5,6,7,8,9,10],"format":"d","labelFontSize":14,"labelExpr":"datum.value % 2 == 0 ? datum.label : ''","tickDash":{"condition":{"test":"datum.value % 2 != 0","value":[4,20]},"value":[]},"title":"Energy, keV","titleColor":"#1e1e1e","titleX":294.3,"titleY":46.8,"titleBaseline":"middle"}},
     "y":{"field":"i","type":"quantitative","scale":{"domain":[-2.388,13.758],"nice":false,"zero":false},
      "axis":{"orient":"left","offset":-51.4,"zindex":1,"values":[1,2,3,4,5,6,7,8,9,10,11,12],"labels":false,"tickDash":{"condition":{"test":"datum.value % 2 != 0","value":[4,20]},"value":[]},"title":"Intensity","titleFontWeight":"normal","titleFontSize":18,"titleColor":"#1e1e1e","titleX":-29.4,"titleY":185.3,"titleBaseline":"middle"}}}},
   {"data":{"values":[{}]},"mark":{"type":"rect","fillOpacity":0,"stroke":"black","strokeWidth":1.5},
    "encoding":{"x":{"datum":0,"type":"quantitative","scale":{"domain":[-1.062,10.382],"nice":false,"zero":false}},"x2":{"datum":10.04},"y":{"datum":0,"type":"quantitative","scale":{"domain":[-2.388,13.758],"nice":false,"zero":false}},"y2":{"datum":12.96}}},
   {"data":{"values":[{}]},"mark":{"type":"rule","color":"black","strokeWidth":3},
    "encoding":{"x":{"datum":0,"type":"quantitative","scale":{"domain":[-1.062,10.382],"nice":false,"zero":false}},"y":{"datum":0,"type":"quantitative","scale":{"domain":[-2.388,13.758],"nice":false,"zero":false}},"y2":{"datum":12.96}}},
   {"data":{"values":[{}]},"mark":{"type":"rule","color":"black","strokeWidth":3},
    "encoding":{"x":{"datum":0,"type":"quantitative","scale":{"domain":[-1.062,10.382],"nice":false,"zero":false}},"x2":{"datum":10.04},"y":{"datum":0,"type":"quantitative","scale":{"domain":[-2.388,13.758],"nice":false,"zero":false}}}},
   {"data":{"name":"labD"},"mark":{"type":"point","filled":true,"fill":"#D2D2D2","stroke":"#6E6E6E","strokeWidth":1,"size":900,"opacity":1},
    "encoding":{"x":{"field":"e","type":"quantitative","scale":{"domain":[-1.062,10.382],"nice":false,"zero":false}},"y":{"field":"i","type":"quantitative","scale":{"domain":[-2.388,13.758],"nice":false,"zero":false}},
     "shape":{"field":"el","type":"nominal","legend":null,"scale":{"domain":["C","O","Cu","Br","S"],"range":["M-0.68,0A0.68,0.97 0 1,0 0.68,0A0.68,0.97 0 1,0 -0.68,0Z","M-0.7,0A0.7,0.8 0 1,0 0.7,0A0.7,0.8 0 1,0 -0.7,0Z","M-1.05,0A1.05,0.85 0 1,0 1.05,0A1.05,0.85 0 1,0 -1.05,0Z","M-1.07,0A1.07,0.75 0 1,0 1.07,0A1.07,0.75 0 1,0 -1.07,0Z","M-0.9,0A0.9,0.75 0 1,0 0.9,0A0.9,0.75 0 1,0 -0.9,0Z"]}}}},
   {"data":{"name":"labD"},"mark":{"type":"text","align":"center","baseline":"middle","fontWeight":"bold","fontSize":15,"color":"black"},
    "encoding":{"x":{"field":"e","type":"quantitative","scale":{"domain":[-1.062,10.382],"nice":false,"zero":false}},"y":{"field":"i","type":"quantitative","scale":{"domain":[-2.388,13.758],"nice":false,"zero":false}},"text":{"field":"el"}}},
   {"data":{"values":[{}]},"mark":{"type":"text","align":"center","baseline":"middle","fontWeight":"bold","fontSize":30,"color":"black"},
    "encoding":{"x":{"datum":-0.57,"type":"quantitative","scale":{"domain":[-1.062,10.382],"nice":false,"zero":false}},"y":{"datum":12.39,"type":"quantitative","scale":{"domain":[-2.388,13.758],"nice":false,"zero":false}},"text":{"value":"d"}}}
  ]},
  {"data":{"name":"tabD"},
   "encoding":{"x":{"field":"col","type":"nominal","axis":null,"scale":{"type":"band","domain":["_p1","_p2","_p3","Element","Weight %"],"paddingInner":0,"paddingOuter":0.2645,"align":0.47}},
     "y":{"field":"row","type":"nominal","axis":null,"scale":{"type":"band","domain":["Element","C","O","S","Cu","Br","_q1","_q2","_q3","_q4"],"paddingInner":0,"paddingOuter":0.6885,"align":0.566}}},
   "layer":[
    {"transform":[{"filter":"datum.row == 'Element'"}],"mark":{"type":"rect","fill":"#4F81BD","stroke":"white","strokeWidth":2}},
    {"transform":[{"filter":{"field":"row","oneOf":["C","S","Br"]}}],"mark":{"type":"rect","fill":"#D0D8E8","stroke":"white","strokeWidth":2}},
    {"transform":[{"filter":{"field":"row","oneOf":["O","Cu"]}}],"mark":{"type":"rect","fill":"#E9EDF4","stroke":"white","strokeWidth":2}},
    {"transform":[{"filter":"datum.row == 'Element'"}],"mark":{"type":"text","font":"Lato","fontWeight":"bold","fontSize":18,"color":"white","baseline":"middle"},"encoding":{"text":{"field":"txt"}}},
    {"transform":[{"filter":"datum.row != 'Element'"}],"mark":{"type":"text","font":"Lato","fontSize":20,"color":"black","baseline":"middle"},"encoding":{"text":{"field":"txt"}}}
   ]}
 ],
 "resolve":{"scale":{"x":"independent","y":"independent"}}
}
]
}
